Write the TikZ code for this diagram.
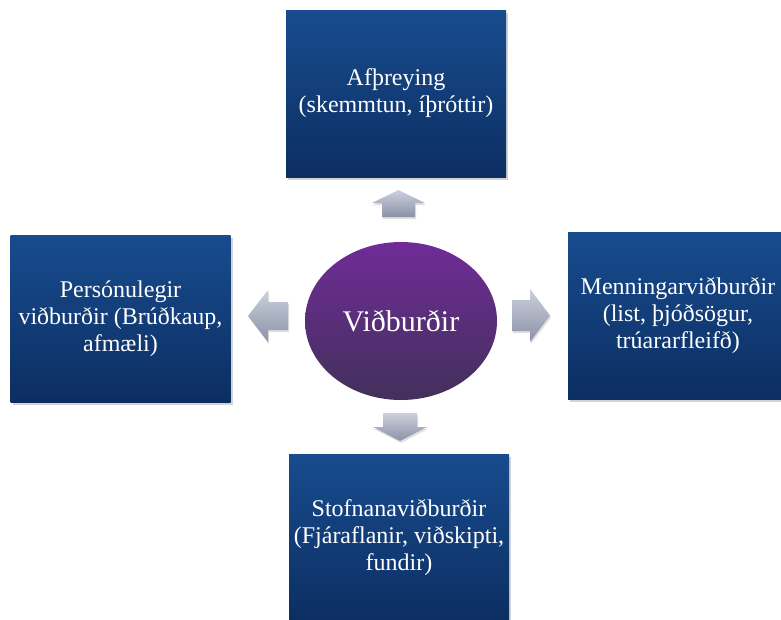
\documentclass[tikz,border=0pt]{standalone}
\usepackage{fontspec}
\setmainfont{Liberation Serif}
\usetikzlibrary{shapes, arrows, positioning, shadows}
\definecolor{azularriba}{RGB}{24,76,142}
\definecolor{azulabajo}{RGB}{12,46,98}
\definecolor{violetaarriba}{RGB}{112,44,152}
\definecolor{violetaabajo}{RGB}{66,48,90}
\definecolor{grisarriba}{RGB}{204,208,220}
\definecolor{grisabajo}{RGB}{138,146,168}
\tikzstyle{caja} = [rectangle, minimum width=220pt, minimum height=167pt, inner sep=4pt, top color=azularriba, bottom color=azulabajo, text=white, align=center, font=\fontsize{24}{27}\selectfont, drop shadow={opacity=0.35, shadow xshift=2pt, shadow yshift=-3pt}]
\tikzstyle{centro} = [ellipse, minimum width=192pt, minimum height=158pt, top color=violetaarriba, bottom color=violetaabajo, text=white, font=\fontsize{30}{34}\selectfont]
\tikzstyle{flecha} = [top color=grisarriba, bottom color=grisabajo, drop shadow={opacity=0.25, shadow xshift=1pt, shadow yshift=-2pt}]

\begin{document}
\begin{tikzpicture}[x=1pt, y=-1pt]
	\useasboundingbox (0,0) rectangle (781,619);
	\node [centro] (evento) at (401,321) {Viðburðir};
	\node [caja] (afthreying) at (396,93.5) {Afþreying\\(skemmtun, íþróttir)};
	\node [caja] (personulegir) at (120.5,318.5) {Persónulegir\\viðburðir (Brúðkaup,\\afmæli)};
	\node [caja] (menning) at (678,315.5) {Menningarviðburðir\\(list, þjóðsögur,\\trúararfleifð)};
	\node [caja] (stofnana) at (399,537.5) {Stofnanaviðburðir\\(Fjáraflanir, viðskipti,\\fundir)};
	\coordinate (upp) at (398.5,190);
	\coordinate (haegri) at (550,315.5);
	\coordinate (nidur) at (400,441);
	\coordinate (vinstri) at (248,316);
	\path [flecha] (upp) -- ++(26.5,13) -- ++(-10,0) -- ++(0,14) -- ++(-33,0) -- ++(0,-14) -- ++(-10,0) -- cycle;
	\path [flecha] (haegri) -- ++(-20,26.5) -- ++(0,-11) -- ++(-18,0) -- ++(0,-31) -- ++(18,0) -- ++(0,-11) -- cycle;
	\path [flecha] (nidur) -- ++(27,-14) -- ++(-10,0) -- ++(0,-14) -- ++(-34,0) -- ++(0,14) -- ++(-10,0) -- cycle;
	\path [flecha] (vinstri) -- ++(20,26) -- ++(0,-12) -- ++(20,0) -- ++(0,-28) -- ++(-20,0) -- ++(0,-12) -- cycle;
\end{tikzpicture}
\end{document}
